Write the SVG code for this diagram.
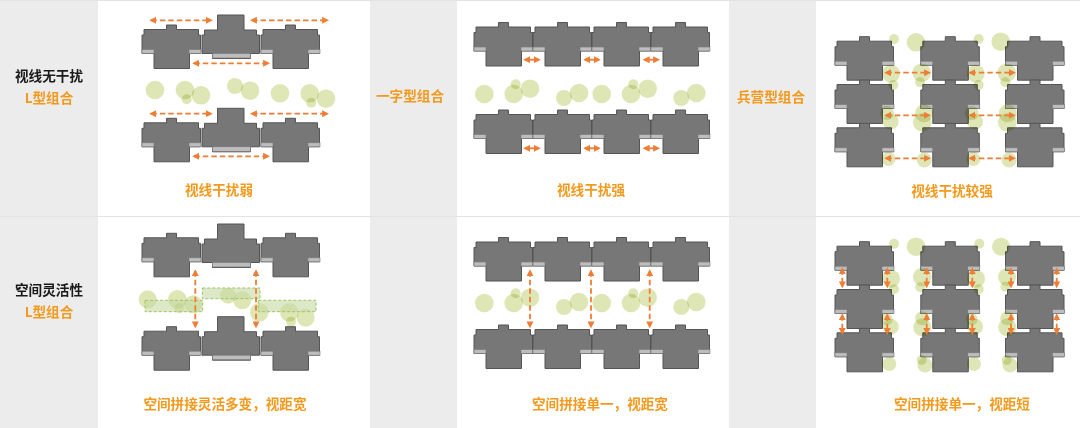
<svg xmlns="http://www.w3.org/2000/svg" width="1080" height="428" viewBox="0 0 1080 428">
<style>
text{font-family:"Noto Sans CJK SC","Liberation Sans",sans-serif;font-weight:700;font-size:13.6px;text-anchor:middle}
.k{fill:#1a1a1a}.o{fill:#f39a1e}
.b{fill:#777;stroke:#555;stroke-width:1}
.s{fill:#bdbdbd;stroke:#777;stroke-width:.6}
.c circle{fill:#dfe6b6;mix-blend-mode:multiply}
.g{fill:#c5d8a4;fill-opacity:.6;stroke:#9cc55e;stroke-width:1;stroke-dasharray:3 2}
.a path{stroke:#ee7d35;stroke-width:1.8;fill:none;stroke-dasharray:5.500 3;marker-start:url(#m);marker-end:url(#m)}
.a2 path{stroke:#ee7d35;stroke-width:1.8;fill:none;marker-start:url(#m);marker-end:url(#m)}
</style>
<defs>
<marker id="m" viewBox="0 0 10 10" refX="7" refY="5" markerUnits="userSpaceOnUse" markerWidth="7" markerHeight="7" orient="auto-start-reverse"><path d="M0 0L10 5L0 10Z" fill="#ee7d35" style="stroke:none;stroke-dasharray:none"/></marker>
<g id="u"><path class="b" d="M.5 10H2.500V4.500H25V0H35V4.500H57V10H59V28.500H48V43.500H12.500V28.500H.5Z"/><rect class="s" x=".5" y="24.500" width="12" height="4"/><rect class="s" x="47.500" y="24.500" width="12" height="4"/></g>
<g id="t"><path class="b" d="M.5 38.500V20H3V15H16V0H42.500V15H55V20H58V38.500H49V43.500H11V38.500Z"/><rect class="s" x="11" y="38.500" width="38" height="4.500"/></g>
</defs>
<rect width="1080" height="428" fill="#fff"/>
<g id="bands" fill="#ececec"><rect width="98" height="428"/><rect x="370" width="87" height="428"/><rect x="729" width="87" height="428"/></g>
<rect y="216" width="1080" height="1" fill="#e3e3e3"/><rect width="1080" height="1" fill="#e3e3e3"/>
<g id="panel-1a">
<use href="#u" x="141.500" y="25"/><use href="#t" x="201.500" y="15"/><use href="#u" x="260.500" y="25"/>
<use href="#u" x="141.500" y="118.300"/><use href="#t" x="201.500" y="108.300"/><use href="#u" x="260.500" y="118.300"/>
<g class="c"><circle cx="155" cy="90" r="9.300"/><circle cx="185" cy="90" r="9.300"/><circle cx="186.700" cy="99.300" r="5"/><circle cx="201" cy="95.300" r="9.300"/><circle cx="235" cy="86" r="8"/><circle cx="250" cy="90.700" r="9.300"/><circle cx="280" cy="93.300" r="9.300"/><circle cx="309.700" cy="93.300" r="9.300"/><circle cx="311.300" cy="102.700" r="5"/><circle cx="326" cy="98.700" r="9.300"/></g>
</g>
<g id="panel-1b">
<use href="#u" x="141.500" y="233.300"/><use href="#t" x="201.500" y="224"/><use href="#u" x="260.500" y="233.300"/>
<use href="#u" x="141.500" y="326.700"/><use href="#t" x="201.500" y="316.700"/><use href="#u" x="260.500" y="326.700"/>
<g class="c"><circle cx="147.700" cy="299.300" r="9"/><circle cx="177.300" cy="299.300" r="9.300"/><circle cx="179.300" cy="308.300" r="5"/><circle cx="193.300" cy="304.300" r="9"/><circle cx="228" cy="295.700" r="8"/><circle cx="242.300" cy="300.300" r="9"/><circle cx="259.300" cy="312.300" r="9.300"/><circle cx="289.300" cy="312.300" r="9.300"/><circle cx="291" cy="321.700" r="5"/><circle cx="305.700" cy="317.700" r="9"/></g>
<rect class="g" x="145" y="300.300" width="57.700" height="11.400"/><rect class="g" x="202.300" y="288" width="57.700" height="10.700"/><rect class="g" x="258.300" y="300.300" width="57.700" height="11.400"/>
</g>
<g id="panel-2a">
<use href="#u" x="473.500" y="22.500"/><use href="#u" x="532.500" y="22.500"/><use href="#u" x="591.500" y="22.500"/><use href="#u" x="650.500" y="22.500"/>
<use href="#u" x="473.500" y="110"/><use href="#u" x="532.500" y="110"/><use href="#u" x="591.500" y="110"/><use href="#u" x="650.500" y="110"/>
<g class="c"><circle cx="484.300" cy="94" r="9.300"/><circle cx="513.700" cy="94" r="9.300"/><circle cx="515.700" cy="84.300" r="5"/><circle cx="530" cy="88.700" r="9.300"/><circle cx="564" cy="98" r="8"/><circle cx="579" cy="93" r="9.300"/><circle cx="601.700" cy="94" r="9.300"/><circle cx="631" cy="94" r="9.300"/><circle cx="633.300" cy="84.300" r="5"/><circle cx="647.700" cy="88.700" r="9.300"/><circle cx="681.300" cy="98" r="8"/><circle cx="696.300" cy="93" r="9.300"/></g>
</g>
<g id="panel-2b">
<use href="#u" x="473.500" y="237.500"/><use href="#u" x="532.500" y="237.500"/><use href="#u" x="591.500" y="237.500"/><use href="#u" x="650.500" y="237.500"/>
<use href="#u" x="473.500" y="325"/><use href="#u" x="532.500" y="325"/><use href="#u" x="591.500" y="325"/><use href="#u" x="650.500" y="325"/>
<g class="c"><circle cx="484.300" cy="303" r="9.300"/><circle cx="513.700" cy="303" r="9.300"/><circle cx="515.700" cy="293.300" r="5"/><circle cx="530" cy="297.700" r="9.300"/><circle cx="564" cy="307" r="8"/><circle cx="579" cy="302" r="9.300"/><circle cx="601.700" cy="303" r="9.300"/><circle cx="631" cy="303" r="9.300"/><circle cx="633.300" cy="293.300" r="5"/><circle cx="647.700" cy="297.700" r="9.300"/><circle cx="681.300" cy="307" r="8"/><circle cx="696.300" cy="302" r="9.300"/></g>
</g>
<g id="panel-3a">
<use href="#u" x="834.500" y="36.700"/><use href="#u" x="920.300" y="36.700"/><use href="#u" x="1005" y="36.700"/>
<use href="#u" x="834.500" y="80"/><use href="#u" x="920.300" y="80"/><use href="#u" x="1005" y="80"/>
<use href="#u" x="834.500" y="123.300"/><use href="#u" x="920.300" y="123.300"/><use href="#u" x="1005" y="123.300"/>
<g class="c"><circle cx="894" cy="39" r="5"/><circle cx="916" cy="42.300" r="9.300"/><circle cx="978.700" cy="39" r="5"/><circle cx="1000.700" cy="41.700" r="9.300"/><circle cx="891" cy="73.700" r="9"/><circle cx="921.700" cy="72.700" r="9.300"/><circle cx="893.300" cy="85" r="5"/><circle cx="920" cy="82.300" r="5"/><circle cx="975.700" cy="73.700" r="9"/><circle cx="1006.700" cy="72.700" r="9.300"/><circle cx="978.700" cy="85" r="5"/><circle cx="1005.300" cy="82.300" r="5"/><circle cx="887" cy="113" r="7"/><circle cx="890.700" cy="121.700" r="8"/><circle cx="924" cy="113.300" r="9"/><circle cx="922.300" cy="122.300" r="9.300"/><circle cx="971.700" cy="113.300" r="7"/><circle cx="975" cy="121.700" r="8"/><circle cx="1007.700" cy="113.300" r="9"/><circle cx="1007.300" cy="122.300" r="9.300"/><circle cx="888.300" cy="159" r="7"/><circle cx="924.300" cy="160" r="7.500"/><circle cx="973.300" cy="159" r="7"/><circle cx="1009" cy="160" r="7.500"/></g>
</g>
<g id="panel-3b">
<use href="#u" x="834.500" y="241.700"/><use href="#u" x="920.300" y="241.700"/><use href="#u" x="1005" y="241.700"/>
<use href="#u" x="834.500" y="285"/><use href="#u" x="920.300" y="285"/><use href="#u" x="1005" y="285"/>
<use href="#u" x="834.500" y="328.300"/><use href="#u" x="920.300" y="328.300"/><use href="#u" x="1005" y="328.300"/>
<g class="c"><circle cx="894" cy="243.700" r="5"/><circle cx="916" cy="246.700" r="9.300"/><circle cx="979.300" cy="243.700" r="5"/><circle cx="1001" cy="246.700" r="9"/><circle cx="891" cy="278.700" r="9"/><circle cx="922.300" cy="277" r="9.300"/><circle cx="894" cy="289.300" r="5"/><circle cx="920.300" cy="287.300" r="5"/><circle cx="976" cy="278.700" r="9"/><circle cx="1007" cy="277" r="9"/><circle cx="1005.300" cy="286.700" r="5"/><circle cx="978.700" cy="289.300" r="5"/><circle cx="890.700" cy="326.700" r="8"/><circle cx="886.700" cy="319.300" r="6"/><circle cx="922.300" cy="318.300" r="7"/><circle cx="922.300" cy="327.300" r="9"/><circle cx="975" cy="326.700" r="8"/><circle cx="971.700" cy="319.300" r="6"/><circle cx="1007.300" cy="318.300" r="7"/><circle cx="1007.300" cy="327.300" r="9"/><circle cx="889.300" cy="364" r="7"/><circle cx="925" cy="365" r="7.500"/><circle cx="921.700" cy="360" r="5"/><circle cx="974" cy="364" r="7"/><circle cx="1010" cy="365" r="7.500"/><circle cx="1006.700" cy="360" r="5"/></g>
</g>
<g id="connectors">
<g class="a"><path d="M151.300 20.300H210.700"/><path d="M252 20.300H327"/><path d="M194.300 63.300H268"/><path d="M151.300 113.700H210.700"/><path d="M252 113.700H327"/><path d="M194.300 156.300H268"/>
<path d="M195.300 271.300V326.300"/><path d="M256 271.300V326.300"/>
<path d="M530 271.300V326.300"/><path d="M591 271.300V326.300"/><path d="M649.700 271.300V326.300"/>
<path d="M886.300 72.700H929"/><path d="M970.300 72.700H1013.700"/><path d="M886.300 115.300H929"/><path d="M970.300 115.300H1013.700"/><path d="M886.300 158.300H929"/><path d="M970.300 158.300H1013.700"/></g>
<g class="a2"><path d="M525.300 59.700H538.700"/><path d="M585.300 59.700H598.700"/><path d="M644.700 59.700H658"/><path d="M525.300 148.300H538.700"/><path d="M585.300 148.300H598.700"/><path d="M644.700 148.300H658"/></g>
<g class="a"><path d="M842.300 269.300V286.300"/><path d="M887.300 269.300V286.300"/><path d="M926.700 269.300V286.300"/><path d="M972.300 269.300V286.300"/><path d="M1011 269.300V286.300"/><path d="M1056.700 269.300V286.300"/><path d="M842.300 315.300V333"/><path d="M887.300 315.300V333"/><path d="M926.700 315.300V333"/><path d="M972.300 315.300V333"/><path d="M1011 315.300V333"/><path d="M1056.700 315.300V333"/></g>
</g>
<g id="labels">
<text class="k" x="49" y="81">视线无干扰</text><text class="o" x="49" y="103">L型组合</text>
<text class="k" x="49" y="295">空间灵活性</text><text class="o" x="49" y="317">L型组合</text>
<text class="o" x="410" y="101">一字型组合</text><text class="o" x="771" y="102">兵营型组合</text>
<text class="o" x="219" y="195">视线干扰弱</text><text class="o" x="591" y="195">视线干扰强</text><text class="o" x="952" y="196">视线干扰较强</text>
<text class="o" x="225" y="409">空间拼接灵活多变，视距宽</text><text class="o" x="600" y="409">空间拼接单一，视距宽</text><text class="o" x="962" y="409">空间拼接单一，视距短</text>
</g>
</svg>
